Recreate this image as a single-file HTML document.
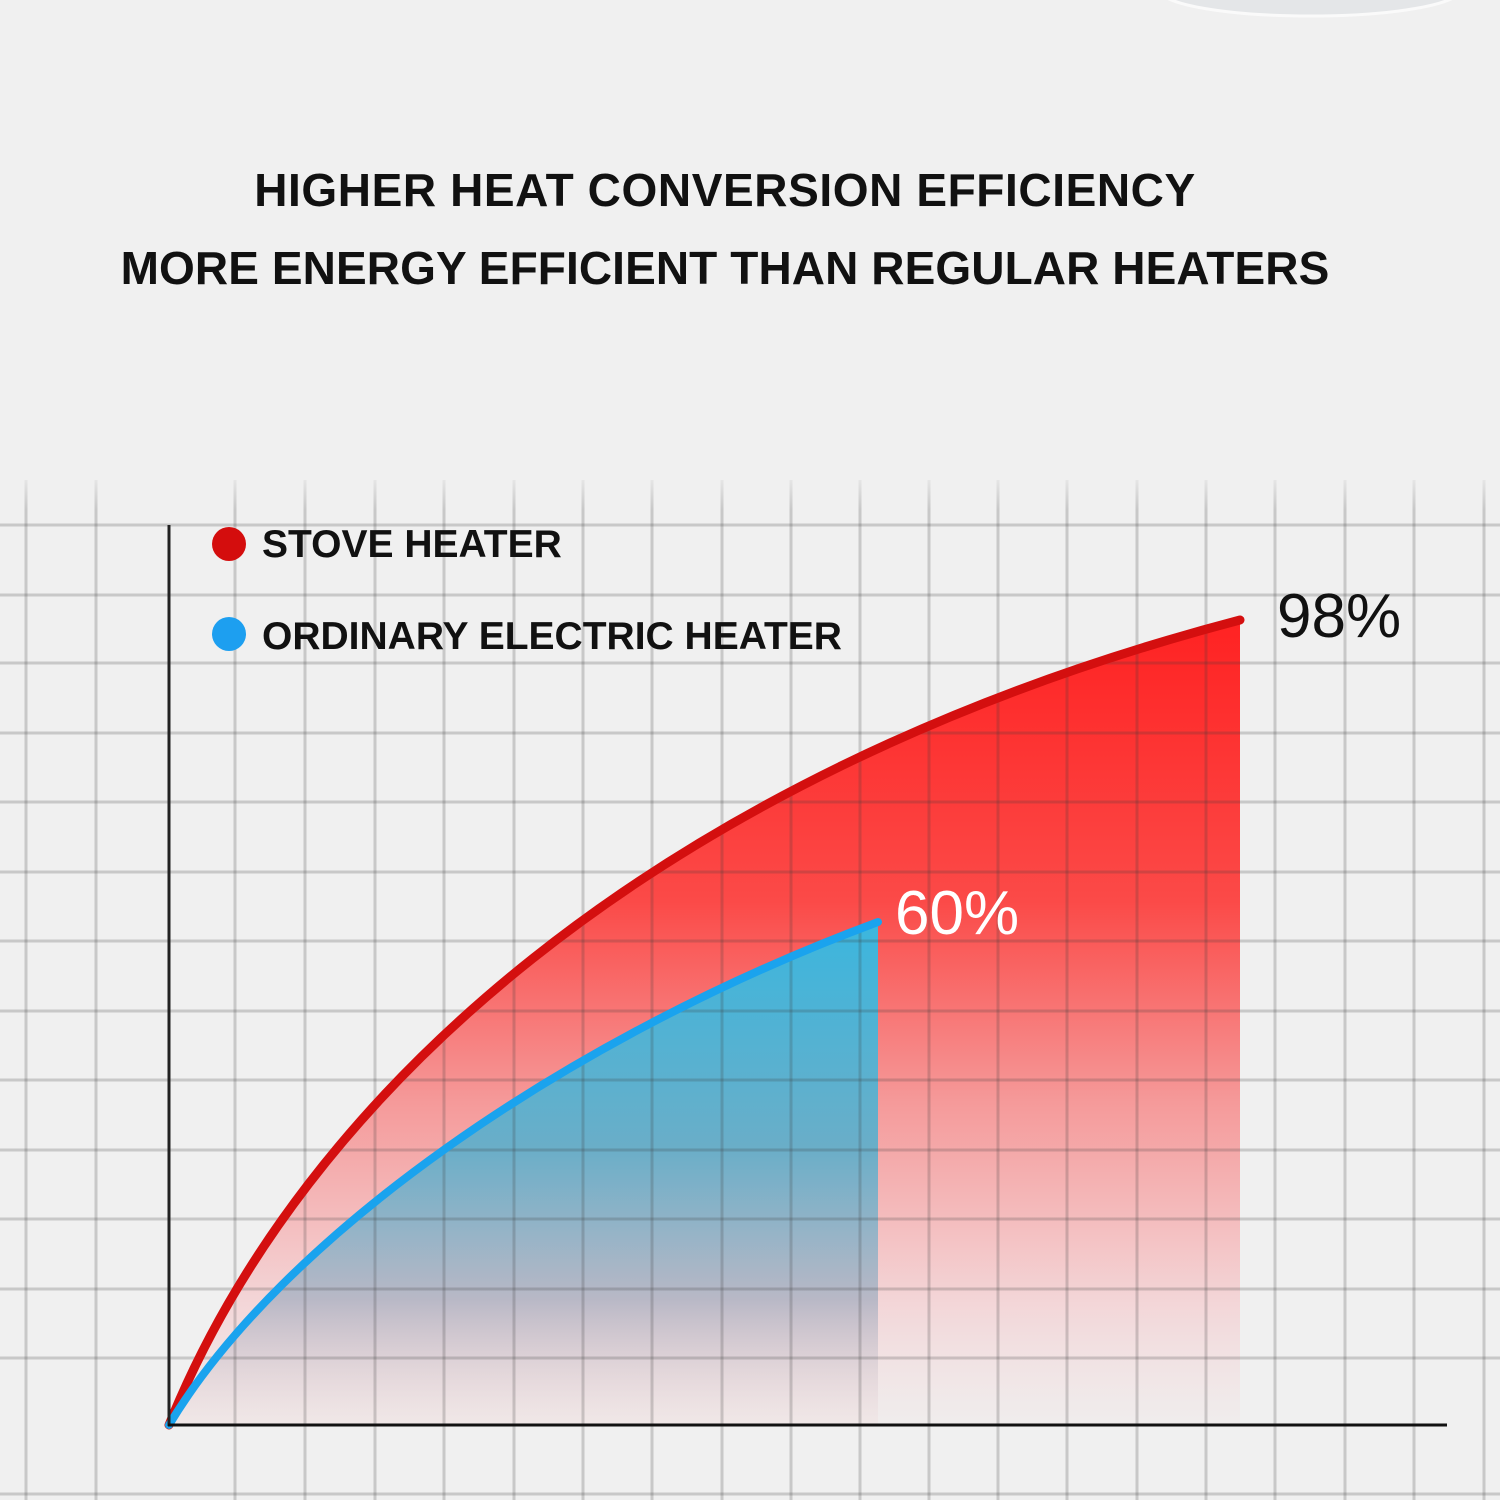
<!DOCTYPE html>
<html><head><meta charset="utf-8"><style>
html,body{margin:0;padding:0;background:#f0f0f0;}
svg{display:block;}
</style></head><body>
<svg width="1500" height="1500" viewBox="0 0 1500 1500" xmlns="http://www.w3.org/2000/svg">
<defs>
<linearGradient id="rg" x1="0" y1="0" x2="0" y2="1" gradientUnits="objectBoundingBox">
<stop offset="0" stop-color="#ff2222"/>
<stop offset="0.35" stop-color="#fb4a48"/>
<stop offset="0.6" stop-color="#f59a9a"/>
<stop offset="0.85" stop-color="#f3d6d8"/>
<stop offset="1" stop-color="#f0eaea" stop-opacity="0.6"/>
</linearGradient>
<linearGradient id="bg" x1="0" y1="0" x2="0" y2="1">
<stop offset="0" stop-color="#3bb6de"/>
<stop offset="0.45" stop-color="#6aaec8"/>
<stop offset="0.75" stop-color="#b8b8c6"/>
<stop offset="1" stop-color="#f0dcdc" stop-opacity="0.3"/>
</linearGradient>
<linearGradient id="fadeTop" x1="0" y1="0" x2="0" y2="1">
<stop offset="0" stop-color="#f0f0f0"/><stop offset="1" stop-color="#f0f0f0" stop-opacity="0"/>
</linearGradient>
</defs>
<rect width="1500" height="1500" fill="#f0f0f0"/>
<ellipse cx="1310" cy="-10" rx="150" ry="26" fill="#e4e6e8" stroke="#fafafa" stroke-width="3"/>
<text x="725" y="206" text-anchor="middle" font-family="Liberation Sans, sans-serif" font-weight="bold" font-size="46" letter-spacing="0.6" fill="#111">HIGHER HEAT CONVERSION EFFICIENCY</text>
<text x="725" y="284" text-anchor="middle" font-family="Liberation Sans, sans-serif" font-weight="bold" font-size="46" letter-spacing="0.1" fill="#111">MORE ENERGY EFFICIENT THAN REGULAR HEATERS</text>

<path d="M169,1425 C300,1100 650,775 1240,620 L1240,1425 Z" fill="url(#rg)"/>
<path d="M169,1425 C280,1240 560,1040 878,922 L878,1425 Z" fill="url(#bg)"/>

<g stroke="#3a3a3a" stroke-opacity="0.22" stroke-width="3">
<line x1="26" y1="480" x2="26" y2="1500"/><line x1="96" y1="480" x2="96" y2="1500"/>
<line x1="235" y1="480" x2="235" y2="1500"/><line x1="305" y1="480" x2="305" y2="1500"/>
<line x1="375" y1="480" x2="375" y2="1500"/><line x1="444" y1="480" x2="444" y2="1500"/>
<line x1="514" y1="480" x2="514" y2="1500"/><line x1="583" y1="480" x2="583" y2="1500"/>
<line x1="652" y1="480" x2="652" y2="1500"/><line x1="722" y1="480" x2="722" y2="1500"/>
<line x1="791" y1="480" x2="791" y2="1500"/><line x1="860" y1="480" x2="860" y2="1500"/>
<line x1="929" y1="480" x2="929" y2="1500"/><line x1="998" y1="480" x2="998" y2="1500"/>
<line x1="1067" y1="480" x2="1067" y2="1500"/><line x1="1137" y1="480" x2="1137" y2="1500"/>
<line x1="1206" y1="480" x2="1206" y2="1500"/><line x1="1275" y1="480" x2="1275" y2="1500"/>
<line x1="1345" y1="480" x2="1345" y2="1500"/><line x1="1414" y1="480" x2="1414" y2="1500"/>
<line x1="1484" y1="480" x2="1484" y2="1500"/>
<line x1="0" y1="525" x2="1500" y2="525"/><line x1="0" y1="595" x2="1500" y2="595"/>
<line x1="0" y1="663" x2="1500" y2="663"/><line x1="0" y1="733" x2="1500" y2="733"/>
<line x1="0" y1="802" x2="1500" y2="802"/><line x1="0" y1="872" x2="1500" y2="872"/>
<line x1="0" y1="941" x2="1500" y2="941"/><line x1="0" y1="1011" x2="1500" y2="1011"/>
<line x1="0" y1="1080" x2="1500" y2="1080"/><line x1="0" y1="1150" x2="1500" y2="1150"/>
<line x1="0" y1="1219" x2="1500" y2="1219"/><line x1="0" y1="1289" x2="1500" y2="1289"/>
<line x1="0" y1="1358" x2="1500" y2="1358"/><line x1="0" y1="1494" x2="1500" y2="1494"/>
</g>
<rect x="0" y="470" width="1500" height="40" fill="url(#fadeTop)"/>

<path d="M169,1425 C300,1100 650,775 1240,620" fill="none" stroke="#d40f0f" stroke-width="9" stroke-linecap="round"/>
<path d="M169,1425 C280,1240 560,1040 878,922" fill="none" stroke="#1aa3ee" stroke-width="8" stroke-linecap="round"/>

<line x1="169" y1="525" x2="169" y2="1426" stroke="#222" stroke-width="3"/>
<line x1="168" y1="1425" x2="1447" y2="1425" stroke="#111" stroke-width="3"/>

<circle cx="229" cy="544" r="17" fill="#d40d0d"/>
<text x="262" y="557" font-family="Liberation Sans, sans-serif" font-weight="bold" font-size="39" fill="#111">STOVE HEATER</text>
<circle cx="229" cy="634" r="17" fill="#1d9ff0"/>
<text x="262" y="649" font-family="Liberation Sans, sans-serif" font-weight="bold" font-size="39" fill="#111">ORDINARY ELECTRIC HEATER</text>

<text x="1277" y="637" font-family="Liberation Sans, sans-serif" font-size="62" fill="#111">98%</text>
<text x="895" y="934" font-family="Liberation Sans, sans-serif" font-size="62" fill="#ffffff">60%</text>
</svg>
</body></html>
